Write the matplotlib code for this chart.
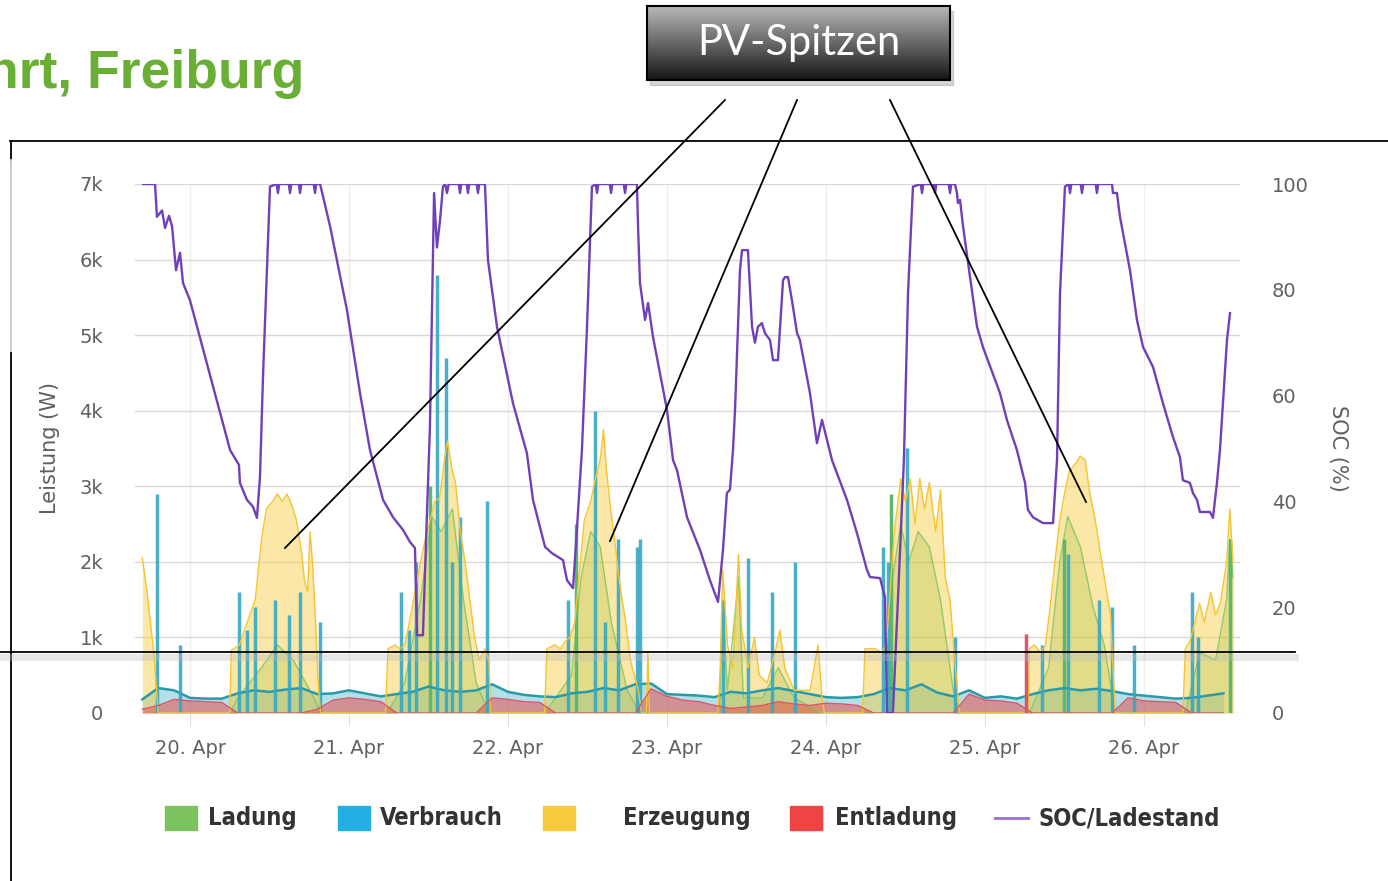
import numpy as np
import matplotlib.pyplot as plt
from matplotlib import font_manager
from matplotlib.lines import Line2D
from matplotlib.patches import Rectangle

# --- Daten -------------------------------------------------------------------
# Zeit in Tagen ab 20. Apr 00:00
tage = [0, 1, 2, 3, 4, 5, 6]
tage_labels = ['20. Apr', '21. Apr', '22. Apr', '23. Apr', '24. Apr', '25. Apr', '26. Apr']

# Raster fuer Grundlast-Reihen (alle 0.1 Tage von -0.3 bis 6.5)
t_raster = np.linspace(-0.3, 6.5, 69)

verbrauch_basis = [180, 330, 300,
                   200, 190, 190, 260, 300, 280, 310, 330, 250, 260,
                   300, 260, 220, 250, 280, 350, 300, 280, 300, 380,
                   280, 240, 220, 210, 260, 280, 330, 300, 380, 390,
                   250, 240, 230, 210, 280, 260, 300, 330, 290, 250,
                   210, 200, 210, 250, 330, 300, 380, 270, 220, 300,
                   200, 220, 190, 250, 300, 330, 300, 320, 290, 250,
                   230, 210, 190, 200, 230, 260]

entladung_basis = [50, 100, 180,
                   160, 150, 140, 0, 0, 0, 0, 0, 50, 170,
                   200, 180, 150, 0, 0, 0, 0, 0, 0, 200,
                   180, 150, 140, 0, 0, 0, 0, 0, 0, 320,
                   220, 170, 150, 100, 60, 80, 100, 150, 120, 100,
                   130, 120, 100, 0, 0, 0, 0, 0, 0, 250,
                   170, 160, 130, 0, 0, 0, 0, 0, 0, 200,
                   160, 150, 140, 0, 0, 0]

# Erzeugung (PV) als (Tag, W)
erzeugung = np.array([
    (-0.30, 2050), (-0.27, 1600), (-0.25, 1200), (-0.23, 850), (-0.20, 0),
    (0.25, 0), (0.26, 830), (0.31, 900), (0.36, 1200), (0.41, 1500), (0.45, 2300),
    (0.48, 2700), (0.52, 2800), (0.55, 2900), (0.58, 2800), (0.61, 2900), (0.64, 2750),
    (0.67, 2550), (0.70, 2150), (0.72, 1750), (0.74, 1600), (0.755, 2400), (0.77, 2000),
    (0.79, 1200), (0.805, 450), (0.82, 0),
    (1.23, 0), (1.245, 850), (1.29, 900), (1.32, 850), (1.35, 900), (1.38, 1200),
    (1.415, 1600), (1.45, 2000), (1.48, 2300), (1.51, 2550), (1.54, 2800), (1.57, 2850),
    (1.60, 3350), (1.62, 3600), (1.65, 3200), (1.67, 3050), (1.70, 2400), (1.73, 2000),
    (1.76, 1500), (1.79, 1000), (1.82, 700), (1.855, 850), (1.88, 700), (1.89, 0),
    (2.23, 0), (2.245, 850), (2.295, 900), (2.33, 850), (2.36, 950), (2.39, 1000),
    (2.42, 1200), (2.45, 1900), (2.48, 2550), (2.52, 2800), (2.55, 3100), (2.58, 3350),
    (2.60, 3750), (2.62, 3200), (2.64, 2800), (2.67, 2300), (2.70, 1750), (2.74, 1200),
    (2.77, 700), (2.82, 300), (2.84, 0), (2.87, 0), (2.88, 800), (2.89, 0),
    (3.32, 0), (3.335, 600), (3.35, 1900), (3.38, 900), (3.415, 600), (3.45, 2100),
    (3.47, 1100), (3.51, 600), (3.55, 1000), (3.58, 500), (3.63, 400), (3.68, 800),
    (3.71, 1100), (3.74, 600), (3.80, 300), (3.90, 300), (3.95, 900), (3.975, 200),
    (3.99, 0),
    (4.23, 0), (4.245, 850), (4.31, 850), (4.35, 800), (4.38, 900), (4.40, 1500),
    (4.43, 2400), (4.47, 3100), (4.50, 2800), (4.53, 3100), (4.56, 2500), (4.59, 3100),
    (4.62, 2700), (4.65, 3050), (4.69, 2400), (4.72, 2950), (4.75, 1800), (4.78, 1500),
    (4.81, 700), (4.84, 0),
    (5.27, 0), (5.28, 850), (5.31, 900), (5.35, 800), (5.38, 900), (5.41, 1400),
    (5.44, 2000), (5.47, 2550), (5.50, 2900), (5.53, 3200), (5.57, 3300), (5.60, 3400),
    (5.63, 3350), (5.66, 2900), (5.69, 2600), (5.72, 2200), (5.75, 1800), (5.79, 1300),
    (5.80, 800), (5.82, 0),
    (6.245, 0), (6.26, 850), (6.29, 950), (6.32, 1200), (6.35, 1450), (6.38, 1200),
    (6.42, 1600), (6.45, 1300), (6.48, 1450), (6.52, 2000), (6.54, 2700), (6.56, 2000),
])

# Ladung als (Tag, W)
ladung = np.array([
    (0.25, 0), (0.30, 200), (0.45, 600), (0.55, 900), (0.65, 700), (0.78, 200), (0.82, 0),
    (1.24, 0), (1.35, 400), (1.45, 1500), (1.52, 2600), (1.58, 2400), (1.65, 2700),
    (1.72, 1500), (1.80, 400), (1.88, 0),
    (2.23, 0), (2.40, 500), (2.46, 1800), (2.52, 2400), (2.58, 2200), (2.65, 1200),
    (2.75, 300), (2.83, 0),
    (3.33, 0), (3.35, 1500), (3.38, 300), (3.45, 1800), (3.48, 200), (3.60, 200),
    (3.70, 600), (3.80, 200), (3.97, 0),
    (4.38, 0), (4.42, 1800), (4.47, 2500), (4.52, 2000), (4.58, 2400), (4.65, 2200),
    (4.72, 1500), (4.80, 300), (4.84, 0),
    (5.28, 0), (5.40, 600), (5.47, 2000), (5.52, 2600), (5.60, 2200), (5.68, 1400),
    (5.75, 900), (5.82, 0),
    (6.26, 0), (6.35, 800), (6.45, 700), (6.52, 1500), (6.54, 2300), (6.56, 1800),
])

# Spitzen (Tag, W)
verbrauch_spitzen = np.array([
    (-0.21, 2900), (-0.06, 900), (0.31, 1600), (0.36, 1100), (0.41, 1400), (0.535, 1500),
    (0.62, 1300), (0.69, 1600), (0.82, 1200), (1.33, 1600), (1.38, 1100), (1.42, 2000),
    (1.555, 5800), (1.61, 4700), (1.65, 2000), (1.70, 2600), (1.87, 2800), (2.38, 1500),
    (2.55, 4000), (2.61, 1200), (2.69, 2300), (2.81, 2200), (2.83, 2300), (3.35, 1500),
    (3.51, 2050), (3.66, 1600), (3.805, 2000), (4.36, 2200), (4.39, 2000), (4.51, 3500),
    (4.81, 1000), (5.36, 900), (5.52, 2100), (5.72, 1500), (5.80, 1400), (5.94, 900),
    (6.30, 1600), (6.34, 1000),
])
ladung_spitzen = np.array([(1.51, 3000), (2.43, 2500), (4.41, 2900), (5.50, 2300), (6.54, 2300)])
entladung_spitzen = np.array([(5.26, 1050)])

# SOC / Ladestand (Tag, %)
soc = np.array([
    (-0.296, 100), (-0.220, 100), (-0.208, 93.8), (-0.176, 95), (-0.157, 91.7),
    (-0.132, 94), (-0.113, 92), (-0.088, 83.7), (-0.063, 87), (-0.044, 81.3),
    (0.000, 78), (0.252, 49.7), (0.308, 46.9), (0.314, 43.5), (0.358, 40.3),
    (0.396, 39), (0.421, 36.9), (0.440, 44.6), (0.459, 63.5), (0.503, 99.5),
    (0.545, 100), (0.553, 98.3), (0.561, 100), (0.621, 100), (0.629, 98.3), (0.637, 100),
    (0.684, 100), (0.692, 98.3), (0.700, 100), (0.778, 100), (0.786, 98.3), (0.794, 100),
    (0.818, 100), (0.881, 92), (0.987, 76.2), (1.069, 60.5), (1.132, 49.7),
    (1.214, 40.3), (1.277, 37), (1.340, 34.6), (1.384, 32.3), (1.415, 31.2),
    (1.428, 14.7), (1.465, 14.7), (1.491, 38.4), (1.509, 54), (1.535, 98.3),
    (1.553, 88), (1.572, 93), (1.591, 99.5),
    (1.605, 100), (1.616, 98.3), (1.627, 100), (1.690, 100), (1.698, 98.3), (1.706, 100),
    (1.740, 100), (1.748, 98.3), (1.756, 100), (1.803, 100), (1.811, 98.3), (1.819, 100),
    (1.855, 100), (1.874, 85.6), (1.931, 73), (2.031, 58.6), (2.119, 49.1),
    (2.157, 40.3), (2.233, 31.4), (2.277, 30.2), (2.346, 28.9), (2.371, 25.1),
    (2.409, 23.6), (2.421, 28.9), (2.465, 49.7), (2.497, 73), (2.528, 99.5),
    (2.552, 100), (2.560, 98.3), (2.568, 100), (2.640, 100), (2.648, 98.3), (2.656, 100),
    (2.728, 100), (2.736, 98.3), (2.744, 100),
    (2.811, 100), (2.818, 92), (2.830, 81.3), (2.862, 74.3), (2.881, 77.5),
    (2.912, 71.1), (3.000, 57.3), (3.038, 47.8), (3.063, 45.9), (3.126, 37),
    (3.208, 30.8), (3.270, 25.1), (3.321, 21), (3.352, 30.8), (3.377, 41.6),
    (3.396, 42.2), (3.415, 49.7), (3.428, 57.3), (3.459, 83.7), (3.472, 87.5),
    (3.509, 87.5), (3.535, 73), (3.553, 70), (3.572, 73), (3.597, 73.7),
    (3.616, 71.8), (3.648, 70.5), (3.667, 66.7), (3.698, 66.7), (3.730, 81.8),
    (3.742, 82.4), (3.761, 82.4), (3.786, 78), (3.818, 71.8), (3.836, 70.5),
    (3.899, 60.5), (3.943, 51), (3.975, 55.4), (4.038, 47.8), (4.132, 40.3),
    (4.195, 34), (4.258, 27), (4.277, 25.7), (4.340, 25.5), (4.371, 21.9),
    (4.384, 0), (4.421, 0), (4.465, 30), (4.490, 47.8), (4.516, 79.4), (4.547, 99.5),
    (4.596, 100), (4.604, 98.3), (4.612, 100), (4.678, 100), (4.686, 98.3), (4.694, 100),
    (4.772, 100), (4.780, 98.3), (4.788, 100),
    (4.811, 100), (4.824, 98.3), (4.830, 96.4), (4.843, 97), (4.862, 92),
    (4.906, 82.4), (4.950, 73), (4.987, 69.2), (5.094, 60.5), (5.138, 55.4),
    (5.201, 49.7), (5.252, 43.5), (5.270, 38.4), (5.302, 37), (5.365, 35.9),
    (5.428, 35.9), (5.453, 47.8), (5.472, 79.4), (5.503, 99.5),
    (5.527, 100), (5.535, 98.3), (5.543, 100), (5.602, 100), (5.610, 98.3), (5.618, 100),
    (5.696, 100), (5.704, 98.3), (5.712, 100),
    (5.799, 100), (5.805, 98.3), (5.830, 98.3), (5.849, 93.8), (5.912, 83.7),
    (5.956, 74.3), (5.994, 69.2), (6.057, 65.4), (6.119, 58.6), (6.182, 52.2),
    (6.226, 48.4), (6.245, 44), (6.289, 43.5), (6.308, 41.6), (6.333, 40.3),
    (6.352, 38), (6.415, 38), (6.434, 36.9), (6.459, 43.5), (6.478, 49.7),
    (6.522, 70.5), (6.541, 75.6),
])

# Farben
gruen = '#7cc35f'
blau = '#22b0e3'
gelb = '#f8cb3c'
rot = '#ef4444'
lila = '#7040b8'

W, H = 1388, 881
def fx(px):
    return px / W
def fy(py):
    return 1 - py / H

# schmale Schrift fuer die Legende, falls vorhanden
vorhanden = {f.name for f in font_manager.fontManager.ttflist}
if 'Liberation Sans Narrow' in vorhanden:
    leg_font = dict(family='Liberation Sans Narrow', fontsize=20)
elif 'DejaVu Sans Condensed' in vorhanden:
    leg_font = dict(family='DejaVu Sans Condensed', fontsize=19)
else:
    leg_font = dict(family='DejaVu Sans', fontstretch='condensed', fontsize=17)

fig = plt.figure(figsize=(W / 100, H / 100), dpi=100)

# --- Diagramm ----------------------------------------------------------------
ax = fig.add_axes([fx(135), fy(713), fx(1240) - fx(135), fy(184) - fy(713)])
ax.set_xlim(-0.346, 6.604)
ax.set_ylim(0, 7000)

ax.fill_between(ladung[:, 0], ladung[:, 1], color=gruen, alpha=0.35, lw=0)
ax.plot(ladung[:, 0], ladung[:, 1], color=gruen, lw=1, alpha=0.8)
ax.vlines(ladung_spitzen[:, 0], 0, ladung_spitzen[:, 1], color='#5fb86a', lw=2.5)

ax.fill_between(t_raster, verbrauch_basis, color='#3fb3c9', alpha=0.4, lw=0)
ax.plot(t_raster, verbrauch_basis, color='#2a9aa8', lw=1.8)
ax.vlines(verbrauch_spitzen[:, 0], 0, verbrauch_spitzen[:, 1], color='#35a8c2', lw=2.5, alpha=0.9)

ax.fill_between(erzeugung[:, 0], erzeugung[:, 1], color=gelb, alpha=0.45, lw=0)
ax.plot(erzeugung[:, 0], erzeugung[:, 1], color='#f5c531', lw=1)

ax.fill_between(t_raster, entladung_basis, color=rot, alpha=0.5, lw=0)
ax.plot(t_raster, entladung_basis, color='#d9576a', lw=1)
ax.vlines(entladung_spitzen[:, 0], 0, entladung_spitzen[:, 1], color='#d9576a', lw=2.5)

ax.set_yticks(range(0, 7001, 1000))
ax.set_yticklabels(['0', '1k', '2k', '3k', '4k', '5k', '6k', '7k'])
ax.set_xticks(tage)
ax.set_xticklabels(tage_labels)
ax.grid(axis='y', color='#d8d8d8', lw=1)
ax.grid(axis='x', color='#eeeeee', lw=1)
ax.set_axisbelow(True)
for s in ax.spines.values():
    s.set_visible(False)
ax.tick_params(axis='y', length=0, pad=23, labelsize=14, labelcolor='#606060')
ax.tick_params(axis='x', length=9, color='#dddddd', pad=10, labelsize=14, labelcolor='#606060')
ax.set_ylabel('Leistung (W)', fontsize=15, color='#606060', labelpad=14)

ax2 = ax.twinx()
ax2.plot(soc[:, 0], soc[:, 1], color=lila, lw=1.7)
ax2.set_ylim(0, 100)
ax2.set_yticks(range(0, 101, 20))
for s in ax2.spines.values():
    s.set_visible(False)
ax2.tick_params(axis='y', length=0, pad=23, labelsize=14, labelcolor='#606060')
ax2.set_ylabel('SOC (%)', fontsize=15, color='#606060', rotation=270, labelpad=28)

# --- Legende -----------------------------------------------------------------
legende = [('Ladung', gruen, 165, 208), ('Verbrauch', blau, 338, 380),
           ('Erzeugung', gelb, 543, 623), ('Entladung', rot, 790, 835)]
for name, farbe, x0, xt in legende:
    fig.add_artist(Rectangle((fx(x0), fy(830)), fx(32), 24 / H, color=farbe,
                             transform=fig.transFigure))
    fig.text(fx(xt), fy(818), name, fontweight='bold', color='#333333',
             va='center', **leg_font)
fig.add_artist(Line2D([fx(995), fx(1028)], [fy(818), fy(818)], color='#9b72d0', lw=2))
fig.text(fx(1038), fy(818), 'SOC/Ladestand', fontweight='bold', color='#333333',
         va='center', **leg_font)

# --- Folienelemente ----------------------------------------------------------
fig.text(fx(-14), fy(88), 'hrt, Freiburg', fontsize=38.5, fontweight='bold',
         color='#6aaf35', family=['Liberation Sans', 'DejaVu Sans'], va='baseline')

schwarz = dict(color='black', lw=1.3)
fig.add_artist(Line2D([fx(10), fx(1388)], [fy(141), fy(141)], **schwarz))
fig.add_artist(Line2D([fx(11), fx(11)], [fy(141), fy(160)], **schwarz))
fig.add_artist(Line2D([fx(11), fx(11)], [fy(160), fy(353)], color='#c8c8c8', lw=1.3))
fig.add_artist(Line2D([fx(11), fx(11)], [fy(353), fy(881)], **schwarz))
fig.add_artist(Line2D([0, fx(1295)], [fy(657), fy(657)], color='#bbbbbb', lw=5, alpha=0.35))
fig.add_artist(Line2D([0, fx(1295)], [fy(652), fy(652)], **schwarz))

# Pfeillinien zu den PV-Spitzen
fig.add_artist(Line2D([fx(725), fx(285)], [fy(100), fy(548)], **schwarz))
fig.add_artist(Line2D([fx(797), fx(610)], [fy(100), fy(541)], **schwarz))
fig.add_artist(Line2D([fx(890), fx(1086)], [fy(100), fy(502)], **schwarz))

# Kasten "PV-Spitzen" mit Verlauf
fig.add_artist(Rectangle((fx(650), fy(85)), fx(303), 74 / H, color='#999999', alpha=0.4,
                         transform=fig.transFigure, zorder=4))
box = fig.add_axes([fx(647), fy(80), fx(303), 74 / H], zorder=5)
verlauf = np.linspace(0.72, 0.09, 64).reshape(-1, 1)
box.imshow(verlauf, cmap='gray', vmin=0, vmax=1, aspect='auto', extent=(0, 1, 0, 1))
box.set_xticks([])
box.set_yticks([])
for s in box.spines.values():
    s.set_color('black')
    s.set_linewidth(1.5)
box.text(0.5, 0.5, 'PV-Spitzen', color='white', fontsize=30, ha='center', va='center',
         family=['Lato', 'DejaVu Sans'], transform=box.transAxes)

fig.savefig('out.png', dpi=100)
